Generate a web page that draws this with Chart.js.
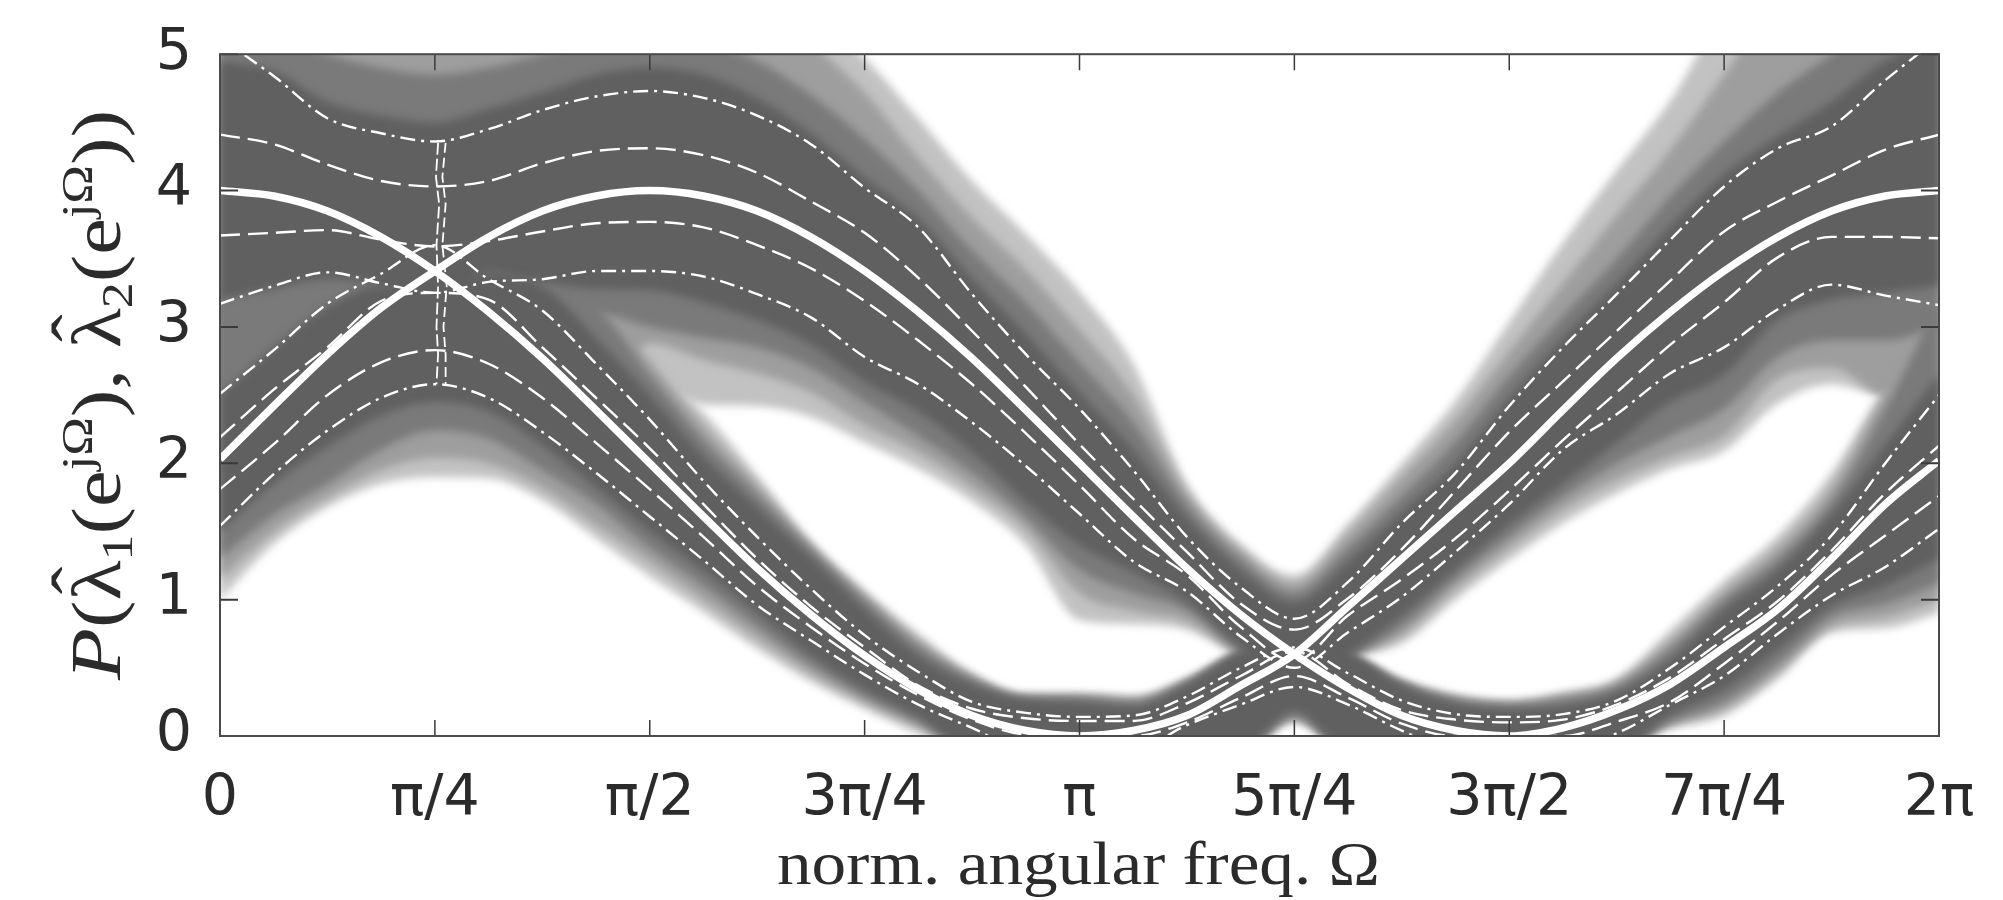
<!DOCTYPE html>
<html><head><meta charset="utf-8">
<style>html,body{margin:0;padding:0;background:#fff}canvas{display:block}</style>
<script src="https://cdn.jsdelivr.net/npm/chart.js@4"></script>
</head><body><canvas id="c" width="2003" height="900"></canvas>
<script>
// x positions in units of pi/16
const xs=[0,1,2,3,4,5,6,7,8,9,10,11,12,13,14,15,16,17,18,19,20,21,22,23,24,25,26,27,28,29,30,31,32];
const xTickLabels=['0','π/4','π/2','3π/4','π','5π/4','3π/2','7π/4','2π'];
const xTitle='norm. angular freq. Ω';
const yTitleParts=[['P','i'],['(','n'],['ˆ','h'],['λ','n'],['1','b'],['(','n'],['e','n'],['jΩ','p'],[')','n'],[',','n'],[' ','n'],['ˆ','h'],['λ','n'],['2','b'],['(','n'],['e','n'],['jΩ','p'],[')','n'],[')','n']];

// thick curves
const curveA=[2.03,2.42,2.8,3.14,3.41,3.66,3.85,3.96,4.0,3.96,3.85,3.66,3.41,3.11,2.77,2.39,2.0,1.61,1.23,.89,.6,.35,.15,.04,0,.06,.19,.38,.65,.93,1.3,1.7,2.02];
const curveB=[4.0,3.96,3.85,3.66,3.41,3.11,2.77,2.39,2.0,1.61,1.23,.89,.59,.34,.15,.04,0,.04,.15,.37,.6,.95,1.3,1.65,2.0,2.39,2.77,3.11,3.41,3.66,3.85,3.96,4.0];
// thin bounds of the larger value
const maxU2=[5.12,4.84,4.53,4.42,4.36,4.45,4.59,4.69,4.73,4.68,4.55,4.34,4.02,3.73,3.24,2.8,2.4,1.95,1.46,1.09,.86,1.13,1.56,1.93,2.42,2.85,3.24,3.64,4.03,4.31,4.47,4.81,5.12];
const maxU1=[4.41,4.34,4.19,4.07,4.03,4.07,4.2,4.29,4.31,4.26,4.13,3.92,3.69,3.36,2.97,2.56,2.14,1.74,1.35,.97,.78,1.01,1.37,1.8,2.23,2.6,2.97,3.34,3.7,3.92,4.11,4.3,4.41];
const maxL1=[3.67,3.69,3.71,3.64,3.59,3.63,3.7,3.76,3.77,3.73,3.6,3.43,3.19,2.9,2.58,2.22,1.84,1.45,1.18,.8,.55,.885,1.15,1.45,1.8,2.17,2.52,2.87,3.18,3.51,3.66,3.66,3.65];
const maxL2=[3.17,3.3,3.4,3.32,3.25,3.33,3.35,3.41,3.41,3.37,3.24,3.07,2.78,2.58,2.3,1.98,1.63,1.28,1.06,.73,.5,.76,1.02,1.35,1.7,2.1,2.36,2.66,2.85,3.13,3.31,3.23,3.16];
// thin bounds of the smaller value
const minU2=[2.51,2.83,3.17,3.39,3.6,3.35,3.12,2.73,2.32,1.87,1.46,1.08,.74,.47,.25,.17,.14,.15,.29,.5,.65,.46,.26,.16,.14,.16,.26,.5,.8,1.1,1.47,2.0,2.5];
const minU1=[2.19,2.54,2.85,3.19,3.25,3.2,2.85,2.48,2.11,1.7,1.3,.95,.65,.37,.2,.13,.11,.11,.24,.44,.62,.38,.19,.12,.1,.12,.23,.43,.71,.99,1.36,1.78,2.13];
const minL1=[1.81,2.14,2.5,2.74,2.83,2.73,2.48,2.15,1.81,1.46,1.1,.8,.53,.3,.12,.01,0,0,.1,.28,.44,.28,.09,0,0,0,.105,.25,.53,.84,1.18,1.47,1.76];
const minL2=[1.54,1.92,2.24,2.48,2.58,2.48,2.23,1.93,1.61,1.29,.96,.7,.45,.23,.06,-.1,-.1,-.1,.08,.23,.36,.23,.04,-.1,-.1,-.1,.02,.23,.44,.75,1.03,1.24,1.52];
// jagged vertical trace at pi/4
const traceV=[4.35,4.1,3.9,3.6,3.3,3.0,2.8,2.58];
const traceX1=[4.06,4.02,4.08,4.03,4.06,4.03,4.06,4.03];
const traceX2=[4.2,4.14,4.2,4.14,4.22,4.16,4.2,4.2];

// density contours: outer edge
const outerMU=[5.6,5.6,5.6,5.6,5.6,5.6,5.6,5.6,5.6,5.6,5.6,5.3,4.97,4.53,4.07,3.68,3.26,2.73,1.85,1.41,1.18,1.56,2.0,2.46,3.04,3.62,4.15,4.66,5.3,5.6,5.6,5.6,5.6];
const outerML=[2.5,2.5,2.5,2.5,2.5,2.5,2.5,2.5,2.55,2.43,2.42,2.34,2.15,1.96,1.72,1.4,.85,.82,.78,.58,.45,.58,.68,1.0,1.29,1.56,1.78,1.96,2.09,2.44,2.58,2.5,2.5];
const outerNU=[2.8,2.8,2.8,2.8,2.8,2.8,2.8,2.8,2.7,2.37,1.91,1.43,1.07,.75,.46,.31,.31,.29,.42,.62,.7,.58,.41,.3,.26,.32,.42,.78,1.14,1.47,1.93,2.55,2.9];
const outerNL=[1.0,1.41,1.68,1.85,1.9,1.89,1.73,1.45,1.17,.91,.64,.4,.2,.02,-.1,-.1,-.1,-.1,-.1,-.1,.1,-.1,-.1,-.1,-.1,-.1,0,.06,.15,.42,.76,.79,.9];
// second contour
const lightMU=[5.6,5.6,5.6,5.6,5.6,5.6,5.6,5.6,5.6,5.6,5.6,5.1,4.72,4.24,3.8,3.42,2.98,2.5,1.78,1.36,1.12,1.48,1.9,2.32,2.82,3.32,3.82,4.3,4.85,5.4,5.6,5.6,5.6];
const lightML=[2.5,2.5,2.5,2.5,2.5,2.5,2.5,2.5,2.88,2.76,2.66,2.52,2.28,2.08,1.82,1.52,1.05,.92,.84,.6,.45,.58,.74,1.08,1.38,1.66,1.88,2.05,2.2,2.62,2.7,2.5,2.5];
const lightNU=[3.2,3.2,3.2,3.2,3.2,3.2,3.2,3.2,2.75,2.27,1.84,1.4,1.03,.7,.44,.3,.3,.28,.41,.62,.7,.6,.4,.29,.25,.3,.4,.7,1.06,1.38,1.82,2.52,3.2];
const lightNL=[1.15,1.5,1.75,1.95,2.04,2.0,1.82,1.55,1.28,1.0,.72,.46,.25,.07,-.1,-.1,-.1,-.1,-.1,-.1,.12,-.1,-.1,-.1,-.1,-.1,-.1,.08,.2,.47,.8,.87,1.0];
// third contour
const midMU=[5.3,5.15,5.0,4.9,4.85,4.9,5.0,5.1,5.2,5.1,4.95,4.7,4.38,4.0,3.56,3.18,2.74,2.3,1.7,1.3,1.05,1.38,1.76,2.16,2.64,3.08,3.5,3.96,4.36,4.72,5.0,5.3,5.5];
const midML=[2.5,2.5,2.5,2.5,2.5,2.5,2.5,3.1,3.0,2.92,2.85,2.7,2.45,2.2,1.93,1.6,1.22,1.05,.92,.62,.45,.58,.8,1.15,1.46,1.75,2.0,2.2,2.4,2.78,2.9,2.9,3.0];
const midNU=[3.3,3.3,3.3,3.3,3.3,3.3,3.3,3.15,2.65,2.17,1.77,1.37,1.0,.66,.42,.28,.28,.25,.4,.62,.7,.6,.39,.27,.23,.27,.36,.64,1.0,1.3,1.72,2.4,3.2];
const midNL=[1.3,1.62,1.85,2.1,2.24,2.18,1.95,1.7,1.38,1.1,.8,.52,.29,.1,-.1,-.1,-.1,-.1,-.1,-.1,.14,-.1,-.1,-.1,-.1,-.1,-.1,.1,.25,.53,.87,.97,1.12];
// dark core
const coreMU=[4.95,4.88,4.65,4.55,4.5,4.6,4.72,4.85,4.9,4.85,4.68,4.42,4.1,3.8,3.36,2.95,2.52,2.1,1.6,1.22,.98,1.28,1.64,2.0,2.48,2.92,3.32,3.74,4.12,4.4,4.65,4.95,5.1];
const coreML=[3.2,3.28,3.35,3.3,3.1,3.4,3.33,3.28,3.27,3.18,3.05,2.87,2.6,2.38,2.08,1.72,1.4,1.2,.98,.65,.45,.6,.88,1.22,1.55,1.85,2.15,2.45,2.65,3.05,3.2,3.25,3.3];
const coreNU=[2.5,2.85,3.15,3.3,3.3,3.4,3.3,2.92,2.5,2.05,1.68,1.31,.93,.59,.38,.27,.25,.22,.38,.62,.7,.62,.38,.24,.2,.22,.32,.56,.93,1.22,1.63,2.14,2.65];
const coreNL=[1.5,1.85,2.12,2.35,2.45,2.38,2.13,1.82,1.5,1.21,.9,.59,.34,.14,-.1,-.1,-.1,-.1,-.1,-.1,.18,-.1,-.1,-.1,-.1,-.1,-.1,.15,.34,.63,.95,1.1,1.3];

const pts=(ys,xv=xs)=>ys.map((y,i)=>({x:xv[i],y}));
const seq=[];
function band(up,low,color){
  const idx=seq.length;
  seq.push({data:pts(up),borderWidth:0,borderColor:'rgba(0,0,0,0)',pointRadius:0,cubicInterpolationMode:'monotone',fill:{target:idx+1},backgroundColor:color});
  seq.push({data:pts(low),borderWidth:0,borderColor:'rgba(0,0,0,0)',pointRadius:0,cubicInterpolationMode:'monotone',fill:false});
}
function thin(ys,dash,xv,w=2.4){
  seq.push({data:pts(ys,xv),borderColor:'#ffffff',borderWidth:w,borderDash:dash,pointRadius:0,cubicInterpolationMode:xv?'default':'monotone',tension:0,fill:false});
}
const DASH=[20,8], DOT=[15,6,3,6];
band(outerMU,outerML,'#c2c2c2'); band(outerNU,outerNL,'#c2c2c2');
band(lightMU,lightML,'#9e9e9e'); band(lightNU,lightNL,'#9e9e9e');
band(midMU,midML,'#7a7a7a'); band(midNU,midNL,'#7a7a7a');
band(coreMU,coreML,'#606060'); band(coreNU,coreNL,'#606060');
const lastDensity=seq.length-1;
[maxU1,maxL1,minU1,minL1].forEach(a=>thin(a,DASH));
[maxU2,maxL2,minU2,minL2].forEach(a=>thin(a,DOT));
thin(traceV,[12,4],traceX1,1.8); thin(traceV,[10,5],traceX2,1.8);
[curveA,curveB].forEach(a=>seq.push({data:pts(a),borderColor:'#ffffff',borderWidth:7.5,pointRadius:0,cubicInterpolationMode:'monotone',fill:false}));
// later entries in seq paint later
seq.forEach((d,i)=>{d.order=seq.length-i;});

const INK='#2b2b2b';
const painter={
  id:'painter',
  beforeDatasetsDraw(c){c.ctx.filter='blur(4px)';},
  afterDatasetDraw(c,args){ if(args.index===lastDensity){c.ctx.filter='none';} },
  afterDraw(c){
    const {ctx,chartArea:a,scales:{x,y}}=c;
    ctx.save();
    ctx.filter='none';
    ctx.strokeStyle='#3a3a3a';ctx.lineWidth=1.5;
    x.ticks.forEach(t=>{const p=x.getPixelForValue(t.value);
      ctx.beginPath();ctx.moveTo(p,a.bottom);ctx.lineTo(p,a.bottom-16);ctx.moveTo(p,a.top);ctx.lineTo(p,a.top+16);ctx.stroke();});
    ctx.lineWidth=2;
    y.ticks.forEach(t=>{const p=y.getPixelForValue(t.value);
      ctx.beginPath();ctx.moveTo(a.left,p);ctx.lineTo(a.left+18,p);ctx.moveTo(a.right,p);ctx.lineTo(a.right-18,p);ctx.stroke();});
    ctx.strokeStyle='#4a4a4a';ctx.lineWidth=2;
    ctx.strokeRect(a.left,a.top,a.right-a.left,a.bottom-a.top);
    // x title
    ctx.fillStyle=INK;ctx.textBaseline='alphabetic';ctx.textAlign='left';
    ctx.font='62px "Liberation Serif"';
    const w=ctx.measureText(xTitle).width;
    ctx.save();ctx.translate(777,884);ctx.scale(603/w,1);ctx.fillText(xTitle,0,0);ctx.restore();
    // y title
    const fonts={i:'italic 72px "Liberation Serif"',n:'70px "Liberation Serif"',b:'44px "Liberation Serif"',p:'44px "Liberation Serif"',h:'70px "Liberation Serif"'};
    const shift={i:0,n:0,b:12,p:-28,h:-20};
    let total=0;yTitleParts.forEach(([s,k])=>{if(k==='h')return;ctx.font=fonts[k];total+=ctx.measureText(s).width;});
    ctx.save();ctx.translate(120,680);ctx.rotate(-Math.PI/2);ctx.scale(570/total,1);
    let px=0;yTitleParts.forEach(([s,k],i)=>{
      ctx.font=fonts[k];
      if(k==='h'){
        const hw=ctx.measureText(s).width;
        ctx.font=fonts.n;const lw=ctx.measureText(yTitleParts[i+1][0]).width;
        ctx.font=fonts.h;ctx.fillText(s,px+(lw-hw)/2,shift.h);return;
      }
      ctx.fillText(s,px,shift[k]);px+=ctx.measureText(s).width;
    });
    ctx.restore();
    ctx.restore();
  }
};
new Chart(document.getElementById('c'),{
  type:'line',
  data:{datasets:seq},
  options:{
    responsive:false,animation:false,
    layout:{autoPadding:false,padding:{top:53,right:64,left:0,bottom:0}},
    plugins:{legend:{display:false},tooltip:{enabled:false},title:{display:false}},
    scales:{
      x:{type:'linear',min:0,max:32,grid:{display:false},border:{display:false},
        afterFit(s){s.height=164;},
        afterBuildTicks(s){s.ticks=xs.filter(v=>v%4===0).map(value=>({value}));},
        ticks:{stepSize:4,autoSkip:false,maxRotation:0,padding:22,color:INK,z:1,font:{family:'"DejaVu Sans"',size:57},
          callback:(v)=>xTickLabels[v/4]}},
      y:{min:0,max:5,grid:{display:false},border:{display:false},
        afterFit(s){s.width=220;},
        ticks:{stepSize:1,padding:20,color:INK,z:1,font:{family:'"DejaVu Sans"',size:57}}}
    }
  },
  plugins:[painter]
});
</script></body></html>
